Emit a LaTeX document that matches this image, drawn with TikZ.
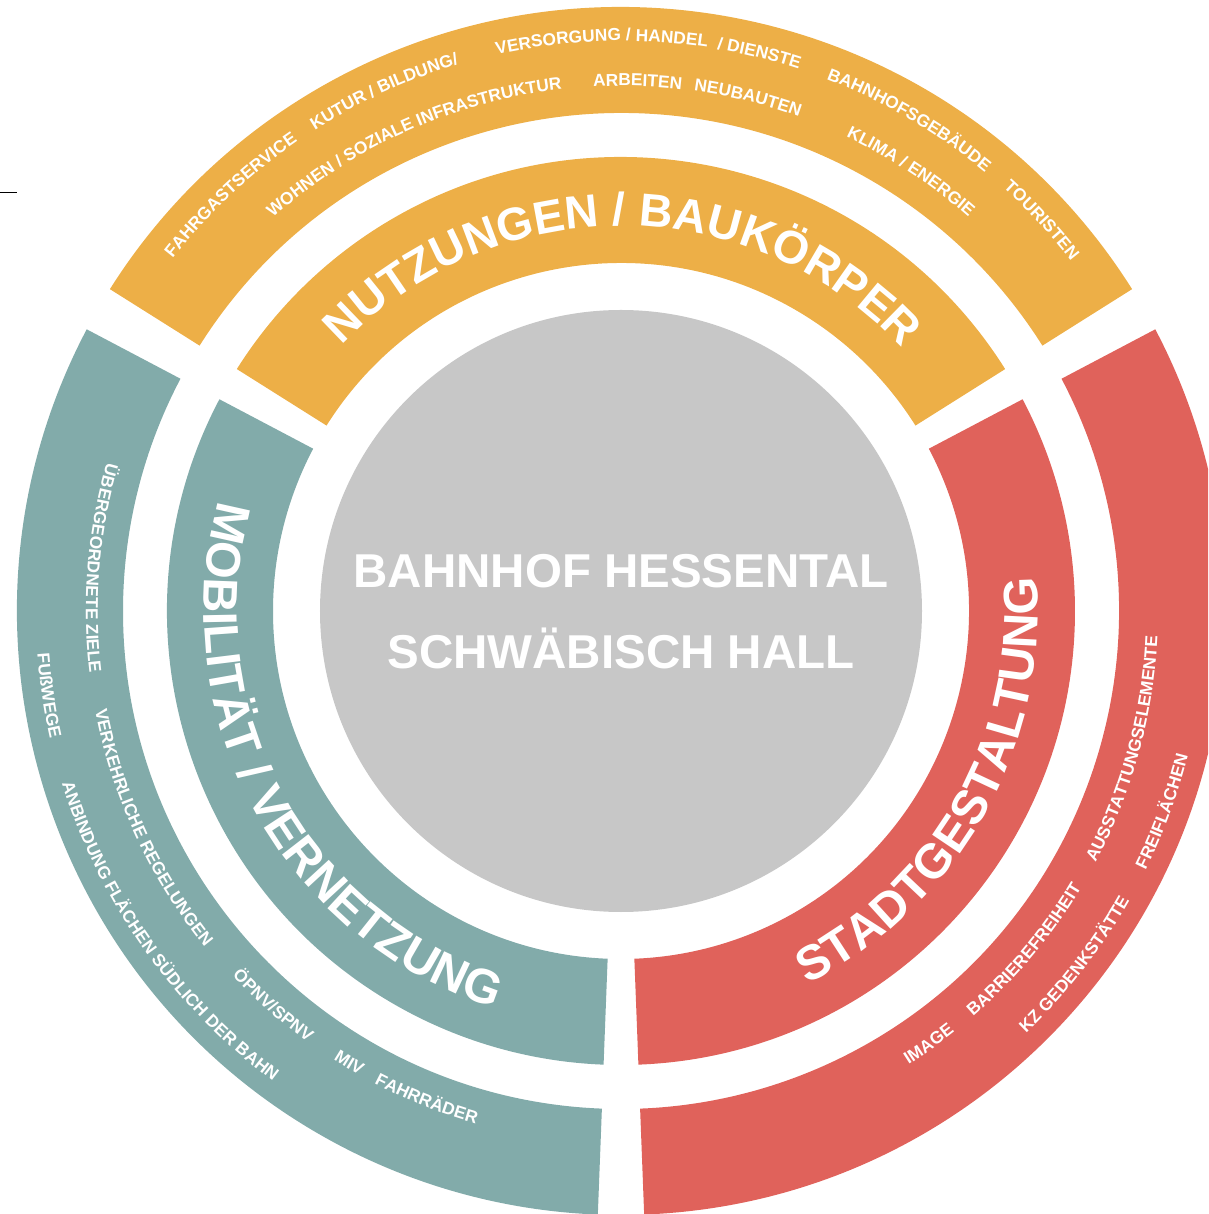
\documentclass[tikz,border=0pt]{standalone}
\usepackage{fontspec}
\setmainfont{Liberation Sans}
\usepackage{tikz}
\usetikzlibrary{decorations.text}
\definecolor{nutzung}{HTML}{EDAF47}
\definecolor{mobil}{HTML}{82ABAA}
\definecolor{stadt}{HTML}{E0625B}
\definecolor{kern}{HTML}{C7C7C7}
\newcommand{\ringpart}[4]{
  (#1:#3) -- (#1:#4) arc[start angle=#1, end angle=#2, radius=#4]
  -- (#2:#3) arc[start angle=#2, end angle=#1, radius=#3] -- cycle
}
% text round the ring, letters standing outwards
\newcommand{\arctextout}[4]{
  \path[decorate, decoration={text along path, text align=center,
    text={|\fontsize{#3}{#3}\selectfont\bfseries\color{white}|#4}}]
    ({#1+70}:#2) arc[start angle={#1+70}, end angle={#1-70}, radius=#2];
}
% letters standing inwards
\newcommand{\arctextin}[4]{
  \path[decorate, decoration={text along path, text align=center,
    text={|\fontsize{#3}{#3}\selectfont\bfseries\color{white}|#4}}]
    ({#1-70}:#2) arc[start angle={#1-70}, end angle={#1+70}, radius=#2];
}

\begin{document}
\begin{tikzpicture}[x=1pt,y=1pt]
\tikzstyle{kerntext}=[text=white,inner sep=0pt,anchor=base,font=\fontsize{47.5}{47.5}\selectfont\bfseries]

\useasboundingbox (-621,-603) rectangle (587,611);
\clip (-621,-603) rectangle (587,611);

\draw[black,line width=1] (-621,418) -- (-604,418);

\fill[kern] (0,0) circle[radius=301];
\fill[nutzung] \ringpart{32.2}{147.8}{348}{454};
\fill[nutzung] \ringpart{32.2}{147.8}{498}{604};
\fill[mobil] \ringpart{152.2}{267.8}{348}{454};
\fill[mobil] \ringpart{152.2}{267.8}{498}{604};
\fill[stadt] \ringpart{272.2}{387.8}{348}{454};
\fill[stadt] \ringpart{272.2}{387.8}{498}{604};

\node[kerntext] (bahnhof) at (0,23) {BAHNHOF HESSENTAL};
\node[kerntext] (stadtname) at (0,-58) {SCHWÄBISCH HALL};

\arctextout{89.7}{385}{46.3}{NUTZUNGEN / BAUKÖRPER}
\arctextin{208.5}{417}{48.5}{MOBILITÄT / VERNETZUNG}
\arctextin{-29.4}{417}{48.5}{STADTGESTALTUNG}

% Nutzungen
\arctextout{133.2}{570}{17.3}{FAHRGASTSERVICE}
\arctextout{114.5}{570}{17.3}{KUTUR / BILDUNG/}
\arctextout{87.2}{570}{17.3}{VERSORGUNG / HANDEL {\ }/ DIENSTE}
\arctextout{59.6}{570}{17.3}{BAHNHOFSGEBÄUDE}
\arctextout{42.9}{570}{17.3}{TOURISTEN}
\arctextout{114}{525}{17.3}{WOHNEN / SOZIALE INFRASTRUKTUR}
\arctextout{88.2}{525}{17.3}{ARBEITEN}
\arctextout{76.1}{525}{17.3}{NEUBAUTEN}
\arctextout{56.6}{525}{17.3}{KLIMA / ENERGIE}

% Mobilitaet
\arctextin{175.3}{535}{17.3}{ÜBERGEORDNETE ZIELE}
\arctextin{204.8}{535}{17.3}{VERKEHRLICHE REGELUNGEN}
\arctextin{228.6}{533}{17.3}{ÖPNV/SPNV}
\arctextin{239}{533}{17.3}{MIV}
\arctextin{248.3}{533}{17.3}{FAHRRÄDER}
\arctextin{188.4}{585}{17.3}{FUßWEGE}
\arctextin{215.3}{585}{17.3}{ANBINDUNG FLÄCHEN SÜDLICH DER BAHN}

% Stadtgestaltung
\arctextin{-54.6}{537}{17.3}{IMAGE}
\arctextin{-40}{537}{17.3}{BARRIEREFREIHEIT}
\arctextin{-15.3}{537}{17.3}{AUSSTATTUNGSELEMENTE}
\arctextin{-37.9}{585}{17.3}{KZ GEDENKSTÄTTE}
\arctextin{-20.3}{585}{17.3}{FREIFLÄCHEN}
\end{tikzpicture}
\end{document}
